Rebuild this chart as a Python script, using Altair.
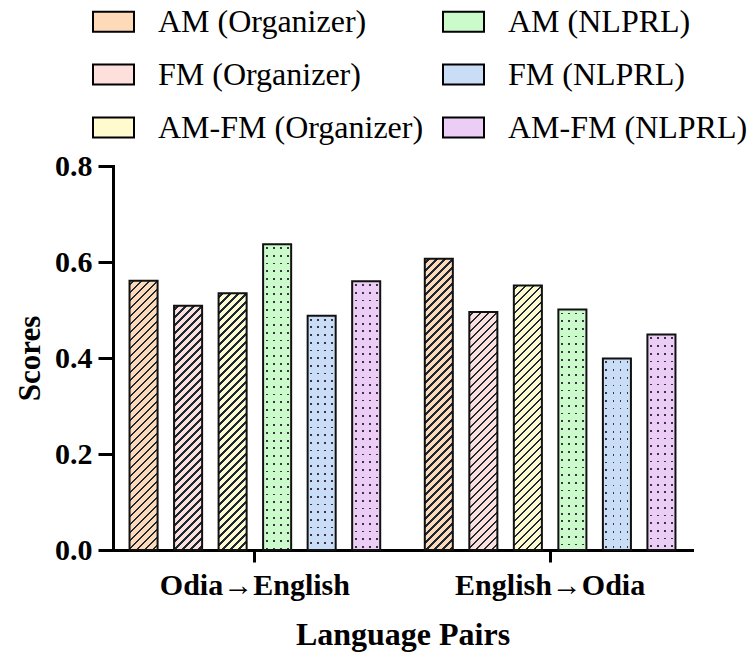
import altair as alt
import pandas as pd

# ---------------- data ----------------
pairs = ["Odia→English", "English→Odia"]
series = ["AM (Organizer)", "FM (Organizer)", "AM-FM (Organizer)",
          "AM (NLPRL)", "FM (NLPRL)", "AM-FM (NLPRL)"]
scores_odia_english = [0.561, 0.509, 0.535, 0.637, 0.488, 0.560]
scores_english_odia = [0.607, 0.496, 0.551, 0.501, 0.399, 0.449]

# ---------------- styles ----------------
fill_colors = ["#FFDAB9", "#FDE0DC", "#FFFBCF", "#CCFBCB", "#C9DDF6", "#EBCDF6"]
pattern_kind = ["hatch", "hatch", "hatch", "dots", "dots", "dots"]
HATCH_INK = "#1b2836"
DOT_INK = "#3b3344"
FONT = "'Liberation Serif', 'Times New Roman', 'DejaVu Serif', serif"

rows = []
for p, vals in zip(pairs, [scores_odia_english, scores_english_odia]):
    for s, v in zip(series, vals):
        rows.append({"pair": p, "series": s, "score": v})
df = pd.DataFrame(rows)

# ---------------- layout ----------------
PLOT_W, PLOT_H = 579, 384
Y_MAX = 0.8
X_PAD_IN, X_PAD_OUT = 0.151, 0.056
OFF_PAD_IN = 0.37
x_step = PLOT_W / (len(pairs) - X_PAD_IN + 2 * X_PAD_OUT)
group_w = x_step * (1 - X_PAD_IN)
off_step = group_w / (len(series) - OFF_PAD_IN)
BAR_W = off_step * (1 - OFF_PAD_IN)
PX_PER_UNIT = PLOT_H / Y_MAX
SW_W, SW_H = 41, 20  # legend swatch size


def band_stops(total, period, ink_w, phase, base, ink):
    stops = [{"offset": 0, "color": base}]
    pos = phase
    while pos < total:
        a = round(max(pos, 0) / total, 5)
        b = round(min(pos + ink_w, total) / total, 5)
        stops += [{"offset": a, "color": base}, {"offset": a, "color": ink},
                  {"offset": b, "color": ink}, {"offset": b, "color": base}]
        pos += period
    stops.append({"offset": 1, "color": base})
    return stops


def oblique(A, B):
    k = (A + B) / (A * A + B * B)
    return round(A * k, 5), round(B * k, 5)


def hatch_gradient(w, h, col):
    x2, y2 = oblique(w, h)
    return {"gradient": "linear", "x1": 0, "y1": 0, "x2": x2, "y2": y2,
            "stops": band_stops(w + h, 8.0, 2.6, 3.0, col, HATCH_INK)}


x_axis = alt.Axis(title="Language Pairs", labelAngle=0, labelFont=FONT,
                  labelFontWeight="bold", labelFontSize=30, labelColor="black",
                  labelPadding=8, labelLimit=400, tickSize=12, tickWidth=3,
                  tickColor="black", domainWidth=3, domainColor="black",
                  domainCap="square",
                  titleFont=FONT, titleFontWeight="bold", titleFontSize=32,
                  titleColor="black", titleY=84, titleBaseline="middle")
y_axis = alt.Axis(title="Scores", values=[0, 0.2, 0.4, 0.6, 0.8], format=".1f",
                  labelFont=FONT, labelFontWeight="bold", labelFontSize=30,
                  labelColor="black", labelPadding=6, tickSize=15, tickWidth=3,
                  tickColor="black", domainWidth=3, domainColor="black",
                  domainCap="square", grid=False,
                  titleFont=FONT, titleFontWeight="bold", titleFontSize=31,
                  titleColor="black", titleX=-83, titleY=PLOT_H / 2,
                  titleAngle=270, titleAlign="center", titleBaseline="middle")

X = alt.X("pair:N", scale=alt.Scale(domain=pairs, paddingInner=X_PAD_IN,
                                    paddingOuter=X_PAD_OUT), axis=x_axis)
XO = alt.XOffset("series:N", scale=alt.Scale(domain=series, paddingInner=OFF_PAD_IN,
                                             paddingOuter=0))
Y = alt.Y("score:Q", scale=alt.Scale(domain=[0, Y_MAX], nice=False), axis=y_axis)

half_h = round(SW_H / SW_W, 4)
base = alt.Chart(df).mark_bar().encode(
    x=X, xOffset=XO, y=Y,
    fill=alt.Fill("series:N", scale=alt.Scale(domain=series, range=fill_colors),
                  legend=alt.Legend(title=None, orient="none", direction="vertical",
                                    legendX=-21, legendY=-166, columns=2,
                                    symbolType=f"M-1,-{half_h}H1V{half_h}H-1Z",
                                    symbolSize=SW_W * SW_W, symbolStrokeColor="black",
                                    symbolStrokeWidth=2, symbolOpacity=1,
                                    labelFont=FONT, labelFontSize=32, labelColor="black",
                                    labelOffset=23, labelLimit=600, rowPadding=15,
                                    columnPadding=15, padding=0)),
)

layers = [base]
for pair, vals in zip(pairs, [scores_odia_english, scores_english_odia]):
    for s, v, col, kind in zip(series, vals, fill_colors, pattern_kind):
        h = v * PX_PER_UNIT
        flt = (alt.datum.series == s) & (alt.datum.pair == pair)
        if kind == "hatch":
            layers.append(alt.Chart(df).transform_filter(flt)
                          .mark_bar(fill=hatch_gradient(BAR_W, h, col))
                          .encode(x=X, xOffset=XO, y=Y))
        else:
            cols = {"gradient": "linear", "x1": 0, "y1": 0, "x2": 1, "y2": 0,
                    "stops": band_stops(BAR_W, BAR_W / 4, 1.8, BAR_W / 8 - 0.9, col, DOT_INK)}
            rmask = {"gradient": "linear", "x1": 0, "y1": 0, "x2": 0, "y2": 1,
                     "stops": band_stops(h, 7.7, 1.8, 3.0, col, "rgba(0,0,0,0)")}
            layers.append(alt.Chart(df).transform_filter(flt)
                          .mark_bar(fill=cols).encode(x=X, xOffset=XO, y=Y))
            layers.append(alt.Chart(df).transform_filter(flt)
                          .mark_bar(fill=rmask).encode(x=X, xOffset=XO, y=Y))

outline = alt.Chart(df).mark_bar(fillOpacity=0, stroke="#111111", strokeWidth=2).encode(
    x=X, xOffset=XO, y=Y)
layers.append(outline)

chart = alt.layer(*layers).properties(
    width=PLOT_W, height=PLOT_H,
    autosize=alt.AutoSizeParams(type="none"),
    padding={"left": 113, "top": 166, "right": 59, "bottom": 105},
    background="white",
).configure_view(stroke=None)

chart.save("out.html", embed_options={"renderer": "svg", "actions": False})
